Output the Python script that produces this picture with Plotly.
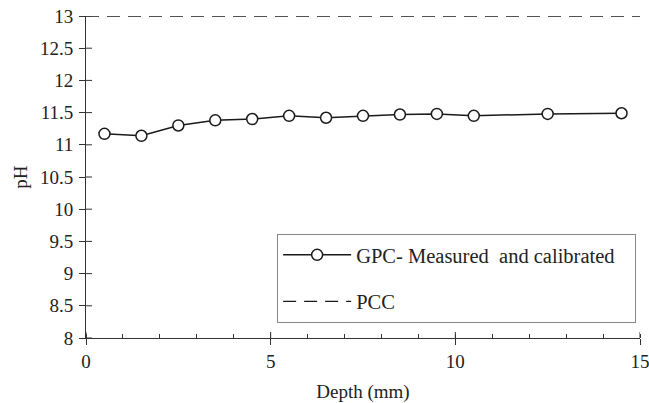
import plotly.graph_objects as go

depth = [0.5, 1.5, 2.5, 3.5, 4.5, 5.5, 6.5, 7.5, 8.5, 9.5, 10.5, 12.5, 14.5]
ph_gpc = [11.17, 11.14, 11.30, 11.38, 11.40, 11.45, 11.42, 11.45, 11.47, 11.48, 11.45, 11.48, 11.49]
pcc_depth = [0, 15]
pcc_ph = [13, 13]
x_ticks = [0, 5, 10, 15]
y_ticks = [8, 8.5, 9, 9.5, 10, 10.5, 11, 11.5, 12, 12.5, 13]
y_labels = ["8", "8.5", "9", "9.5", "10", "10.5", "11", "11.5", "12", "12.5", "13"]

FONT = "Liberation Serif"
INK = "#222"
AX = "#333"
TL = 6
PAD = "\u00a0" * 3
fig = go.Figure()
fig.add_trace(go.Scatter(
    x=depth, y=ph_gpc, mode="lines+markers", name="GPC- Measured\u00a0 and calibrated" + PAD,
    line=dict(color="#1a1a1a", width=1.5),
    marker=dict(symbol="circle", size=11, color="white", line=dict(color="#1a1a1a", width=1.5)),
    legendgroup="a",
))
fig.add_trace(go.Scatter(
    x=pcc_depth, y=pcc_ph, mode="lines", name="PCC",
    line=dict(color="#1a1a1a", width=1.3, dash="13px,8px"),
    legendgroup="b", cliponaxis=False,
))

# inner halves of the crossing major ticks
shapes = []
for v in x_ticks:
    shapes.append(dict(type="line", xref="x", x0=v, x1=v, yref="paper", ysizemode="pixel",
                       yanchor=0, y0=0, y1=TL, line=dict(color=AX, width=1), layer="above"))
for v in y_ticks:
    shapes.append(dict(type="line", yref="y", y0=v, y1=v, xref="paper", xsizemode="pixel",
                       xanchor=0, x0=0, x1=TL, line=dict(color=AX, width=1), layer="above"))

fig.update_layout(
    width=649, height=403,
    margin=dict(l=86, r=9, t=16, b=65, autoexpand=False),
    paper_bgcolor="white", plot_bgcolor="white",
    font=dict(family=FONT, size=19, color=INK),
    showlegend=True,
    shapes=shapes,
    legend=dict(
        x=0.345, y=0.323, xanchor="left", yanchor="top",
        bordercolor="#888", borderwidth=1, bgcolor="white",
        traceorder="grouped", tracegroupgap=17,
        font=dict(family=FONT, size=20.5, color=INK),
        itemwidth=68,
    ),
    xaxis=dict(
        type="linear", range=[0, 15], tickmode="array", tickvals=x_ticks,
        ticks="outside", ticklen=TL, tickwidth=1, tickcolor=AX,
        showline=True, linecolor=AX, linewidth=1,
        showgrid=False, zeroline=False, ticklabeloverflow="allow",
        title=dict(text="Depth (mm)", font=dict(size=19), standoff=18),
        tickfont=dict(size=19),
        minor=dict(dtick=1, tick0=0, ticks="inside", ticklen=4, tickcolor=AX, tickwidth=1, showgrid=False),
    ),
    yaxis=dict(
        type="linear", range=[8, 13], tickmode="array",
        tickvals=y_ticks, ticktext=y_labels,
        ticks="outside", ticklen=TL, tickwidth=1, tickcolor=AX,
        showline=True, linecolor=AX, linewidth=1,
        showgrid=False, zeroline=False,
        title=dict(text="pH", font=dict(size=19), standoff=7),
        tickfont=dict(size=19), ticklabelstandoff=2,
    ),
)

fig.write_html("out.html")
